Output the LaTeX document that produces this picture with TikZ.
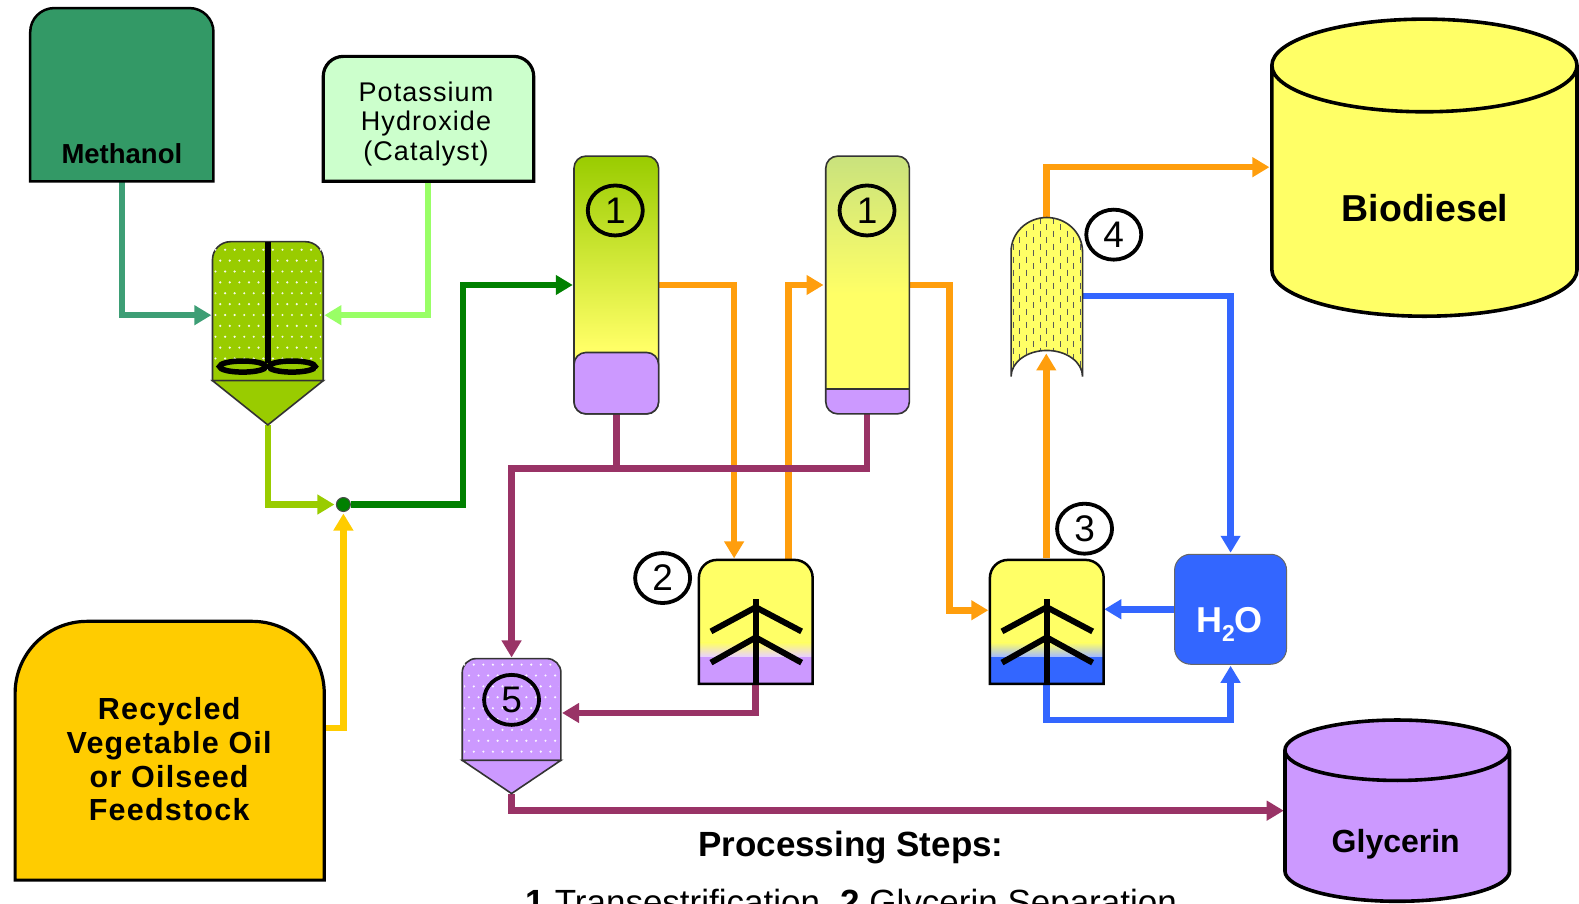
\documentclass[tikz,border=0pt]{standalone}
\usepackage{fontspec}
\setmainfont{Liberation Sans}
\usetikzlibrary{arrows.meta,shapes.geometric}
\definecolor{methgreen}{HTML}{339966}
\definecolor{pipemeth}{HTML}{3D9E75}
\definecolor{kohfill}{HTML}{CCFFCC}
\definecolor{kohpipe}{HTML}{99FF66}
\definecolor{lime}{HTML}{99CC00}
\definecolor{palelime}{HTML}{C9E27D}
\definecolor{darkpipe}{HTML}{008000}
\definecolor{feed}{HTML}{FFCC00}
\definecolor{oil}{HTML}{FFFF66}
\definecolor{lilac}{HTML}{CC99FF}
\definecolor{glypipe}{HTML}{993366}
\definecolor{orangepipe}{HTML}{FF9E0D}
\definecolor{waterblue}{HTML}{3366FF}
\newcommand{\fs}[1]{\fontsize{#1}{#1}\selectfont}
% vessel with a round top: left, top, right, bottom, radius, options
\newcommand{\domed}[6]{\draw[#6] (#1,#4) [rounded corners=#5pt] -- (#1,#2) -- (#3,#2) [sharp corners] -- (#3,#4) -- cycle;}
% storage drum: left, right, centre of top, centre of bottom, end radius, fill
\newcommand{\drum}[6]{\draw[draw=black, line width=3.6pt, fill=#6] (#1,#3) -- (#1,#4)
  arc[start angle=180, end angle=0, x radius={(#2-#1)/2}, y radius=#5] -- (#2,#3)
  arc[start angle=0, end angle=-360, x radius={(#2-#1)/2}, y radius=#5];}
\begin{document}
\begin{tikzpicture}[x=1.007pt, y=-1.007pt, >={Triangle[length=17pt,width=19pt]},
  pipe/.style={line width=6.5pt, ->, shorten >=1.5pt},
  hull/.style={draw=black, line width=2.5pt},
  thin hull/.style={draw=black!80, line width=1.6pt},
  hit/.style={inner sep=0pt, outer sep=0pt},
  num/.style={ellipse, draw, line width=3.8pt, inner sep=0pt, minimum width=55pt, minimum height=50pt, font=\fs{37}},
  dot/.style={white, opacity=.9},
  tree/.style={draw=black, line width=6pt}]
\useasboundingbox (0,0) rectangle (1568,897);

% where the pipes attach
\node[hit, minimum width=182pt, minimum height=172pt] (meth) at (121,94) {};
\node[hit, minimum width=210pt, minimum height=124pt] (koh) at (425,118) {};
\node[hit, minimum width=110pt, minimum height=146pt] (mixer) at (266,313) {};
\node[hit, minimum width=307pt, minimum height=257pt] (feedstock) at (168,723) {};
\node[hit, minimum width=84pt, minimum height=256pt] (cola) at (612,283) {};
\node[hit, minimum width=84pt, minimum height=256pt] (colb) at (861,283) {};
\node[hit, minimum width=113pt, minimum height=100pt] (sep) at (750,606) {};
\node[hit, minimum width=113pt, minimum height=102pt] (wash) at (1039,605) {};
\node[hit, minimum width=72pt, minimum height=158pt] (dryer) at (1039,295) {};
\node[hit, minimum width=112pt, minimum height=110pt] (water) at (1222,605) {};
\node[hit, minimum width=98pt, minimum height=108pt] (recov) at (508,708) {};
\node[hit, minimum width=303pt, minimum height=294pt] (biodiesel) at (1415,166) {};
\node[hit, minimum width=223pt, minimum height=180pt] (glycerin) at (1387,805) {};
\node[circle, draw=black!70, fill=darkpipe, line width=1pt, minimum size=14pt, inner sep=0pt] (jct) at (341,501) {};
\coordinate (mixtip) at (266,422);
\coordinate (recovtip) at (508,788);
\coordinate (dryerin) at (1039,351);
\coordinate (sepin) at (729,556);
\coordinate (sepout) at (783,556);

% pipes
\draw[pipe, pipemeth] (meth.south) |- (mixer.west);
\draw[pipe, kohpipe] (koh.south) |- (mixer.east);
\draw[pipe, lime] (mixtip) |- (jct.west);
\draw[pipe, darkpipe] (jct.east) -| (460,283) -- (cola.west);
\draw[pipe, feed] (feedstock.east) -| (jct.south);
\draw[pipe, orangepipe] (cola.east) -| (sepin);
\draw[pipe, orangepipe] (sepout) |- (colb.west);
\draw[pipe, orangepipe] (colb.east) -| (943,606) -- (wash.west |- 0,606);
\draw[pipe, orangepipe, shorten >=0pt] (wash.north) -- (dryerin);
\draw[pipe, orangepipe, shorten >=4pt] (dryer.north) |- (biodiesel.west);
\draw[pipe, glypipe, -] (cola.south) -- (cola.south |- 0,465);
\draw[pipe, glypipe] (colb.south) |- (508,465) -- (recov.north);
\draw[pipe, glypipe] (sep.south) |- (recov.east);
\draw[pipe, glypipe] (recovtip) |- (glycerin.west);
\draw[pipe, waterblue] (dryer.east |- 0,294) -| (water.north);
\draw[pipe, waterblue] (water.west) -- (wash.east);
\draw[pipe, waterblue] (wash.south) |- (1222,715) -- (water.south);

% supply tanks
\domed{30}{8}{212}{180}{24}{hull, fill=methgreen}
\node[hit, font=\fs{27.5}\bfseries] (methlabel) at (121,153) {Methanol};
\domed{321}{56}{530}{180}{20}{hull, line width=3.2pt, fill=kohfill}
\node[hit, align=center, font=\fontsize{27}{29.6}\selectfont\addfontfeatures{LetterSpace=4}] (kohlabel) at (423,123) {Potassium\\Hydroxide\\(Catalyst)};
\domed{15}{617}{322}{874}{72}{hull, line width=3.2pt, fill=feed}
\node[hit, align=center, font=\fontsize{30.5}{33.8}\selectfont\bfseries\addfontfeatures{LetterSpace=4}] (feedlabel) at (168,754) {Recycled\\Vegetable Oil\\or Oilseed\\Feedstock};

% mixer
\domed{211}{240}{321}{378}{18}{thin hull, fill=lime}
\draw[thin hull, fill=lime] (211,378) -- (321,378) -- (266,422) -- cycle;
\begin{scope}
\clip (213,244) rectangle (319,376);
\foreach \i in {0,...,11} \foreach \j in {0,...,12}
  \fill[dot] ({214+9.5*\i+4.7*mod(\j,2)},{248+10.8*\j}) circle (1.2pt);
\end{scope}
\fill[black] (263,240) rectangle (269,360);
\draw[black, line width=5.5pt, fill=lime] (241,364) ellipse (23 and 5.5);
\draw[black, line width=5.5pt, fill=lime] (290,364) ellipse (23 and 5.5);

% reaction columns
\begin{scope}
\clip[rounded corners=12pt] (570,155) rectangle (654,411);
\fill[oil] (570,155) rectangle (654,411);
\shade[top color=lime, bottom color=oil] (570,155) rectangle (654,345);
\end{scope}
\draw[thin hull, rounded corners=12pt] (570,155) rectangle (654,411);
\draw[thin hull, fill=lilac, rounded corners=12pt] (570,350) rectangle (654,411);
\node[num] (numa) at (611,209) {1};
\begin{scope}
\clip[rounded corners=12pt] (820,155) rectangle (903,411);
\fill[oil] (820,155) rectangle (903,411);
\shade[top color=palelime, bottom color=oil] (820,155) rectangle (903,292);
\fill[lilac] (820,386) rectangle (903,411);
\end{scope}
\draw[thin hull] (820,386) -- (903,386);
\draw[thin hull, rounded corners=12pt] (820,155) rectangle (903,411);
\node[num] (numb) at (861,209) {1};

% settling tanks
\foreach \tx/\cbot in {694/lilac, 983/waterblue} {
  \begin{scope}
  \clip (\tx,679) [rounded corners=18pt] -- (\tx,556) -- ({\tx+113},556) [sharp corners] -- ({\tx+113},679) -- cycle;
  \fill[oil] (\tx,556) rectangle ({\tx+113},640);
  \shade[top color=oil, bottom color=\cbot!45!white] (\tx,638) rectangle ({\tx+113},652);
  \fill[\cbot] (\tx,652) rectangle ({\tx+113},679);
  \end{scope}
  \domed{\tx}{556}{\tx+113}{679}{18}{hull}
  \draw[tree] ({\tx+56.5},595) -- ({\tx+56.5},679);
  \draw[tree, miter limit=2] ({\tx+12},627) -- ({\tx+56.5},603) -- ({\tx+102},627);
  \draw[tree, miter limit=2] ({\tx+12},658) -- ({\tx+56.5},633) -- ({\tx+102},658);
}
\node[num, fill=white] (numsep) at (658,574) {2};
\node[num, fill=white] (numwash) at (1077,525) {3};

% recovery tank
\domed{459}{654}{557}{755}{14}{thin hull, fill=lilac}
\draw[thin hull, fill=lilac] (459,755) -- (557,755) -- (508,788) -- cycle;
\begin{scope}
\clip (461,658) rectangle (555,753);
\foreach \i in {0,...,10} \foreach \j in {0,...,9}
  \fill[dot] ({461+9.5*\i+4.7*mod(\j,2)},{660+10.8*\j}) circle (1.2pt);
\end{scope}
\node[num] (numrecov) at (508,695) {5};

% drying column
\path[fill=oil] (1004,374) -- (1004,250) arc[start angle=180, end angle=360, x radius=35.5, y radius=34]
  -- (1075,374) arc[start angle=0, end angle=-180, x radius=35.5, y radius=26] -- cycle;
\begin{scope}
\clip (1004,374) -- (1004,250) arc[start angle=180, end angle=360, x radius=35.5, y radius=34]
  -- (1075,374) arc[start angle=0, end angle=-180, x radius=35.5, y radius=26] -- cycle;
\foreach \i/\ph in {0/0,1/6.5,2/0,3/6.5,4/0,5/6.5,6/0,7/6.5,8/0,9/6.5,10/0}
  \draw[black!65, line width=1pt, dash pattern=on 6pt off 7pt, dash phase=\ph pt] ({1006+6.7*\i},216) -- ({1006+6.7*\i},374);
\end{scope}
\draw[thin hull] (1004,374) -- (1004,250) arc[start angle=180, end angle=360, x radius=35.5, y radius=34]
  -- (1075,374) arc[start angle=0, end angle=-180, x radius=35.5, y radius=26];
\node[num, fill=white] (numdry) at (1106,233) {4};

% water
\node[draw=black!60, line width=1pt, fill=waterblue, rounded corners=16pt, minimum width=112pt, minimum height=110pt, inner sep=0pt] (waterbox) at (water) {};
\node[hit, text=white, font=\fs{36}\bfseries] (waterlabel) at (1221,620) {H\raisebox{-.5ex}{\fs{23}2}O};

% product tanks
\drum{1263}{1566}{65}{268}{46}{oil}
\node[hit, font=\fs{37.5}\bfseries] (biolabel) at (1415,207) {Biodiesel};
\drum{1276}{1499}{745}{865}{30}{lilac}
\node[hit, font=\fs{32}\bfseries] (glylabel) at (1386,838) {Glycerin};

% steps
\node[hit, font=\fs{35}\bfseries] (stepstitle) at (845,842) {Processing Steps:};
\node[hit, anchor=base west, font=\fs{35}] (stepsline) at (522,908) {\textbf{1} Transestrification\hspace{.3em} \textbf{2} Glycerin Separation};
\end{tikzpicture}
\end{document}
